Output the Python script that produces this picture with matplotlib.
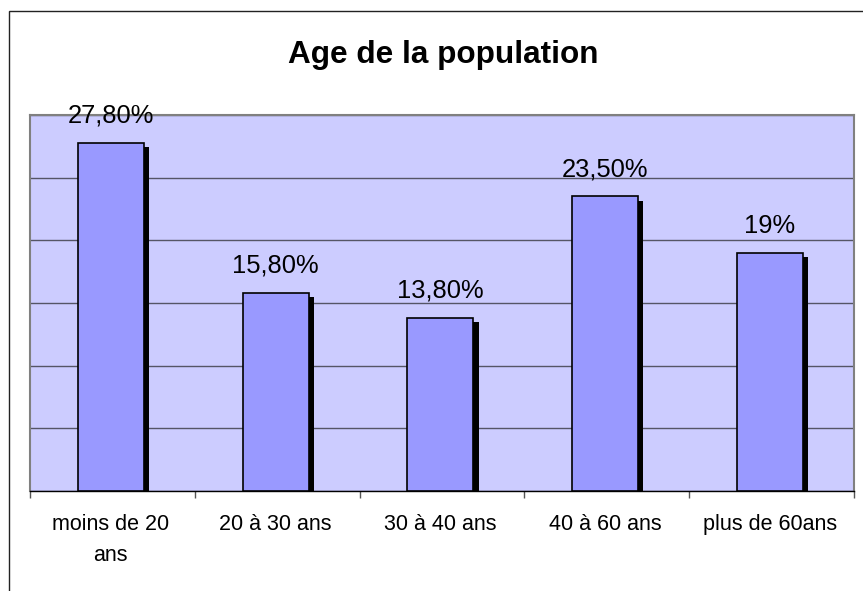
import matplotlib
matplotlib.use("Agg")
import matplotlib.pyplot as plt
from matplotlib import patheffects
from matplotlib.patches import Rectangle
import numpy as np

categories = ["moins de 20\nans", "20 à 30 ans", "30 à 40 ans", "40 à 60 ans", "plus de 60ans"]
values = [27.8, 15.8, 13.8, 23.5, 19.0]
value_labels = ["27,80%", "15,80%", "13,80%", "23,50%", "19%"]
title = "Age de la population"

plt.rcParams['font.family'] = ['Liberation Sans', 'DejaVu Sans']

W, H = 863, 591
fig = plt.figure(figsize=(W / 100, H / 100), dpi=100)

# outer chart border (left/top visible, right/bottom beyond the image)
fig.patches.append(Rectangle((9 / W, -0.05), 1.2, 1 - 11 / H + 0.05,
                             transform=fig.transFigure, fill=False,
                             edgecolor='#222222', linewidth=1.0))

ax = fig.add_axes([30 / W, 1 - 491 / H, (854 - 30) / W, (491 - 115) / H])
ax.set_facecolor('#CCCCFF')
ax.set_xlim(0, len(categories))
ax.set_ylim(0, 30)

ax.set_yticks(np.arange(0, 31, 5))
ax.yaxis.grid(True, color='#555566', linewidth=1.0)
ax.set_axisbelow(True)
ax.tick_params(axis='y', left=False, labelleft=False)

x = np.arange(len(categories)) + 0.49
bars = ax.bar(x, values, width=0.40, color='#9999FF', edgecolor='black',
              linewidth=1.2, zorder=3)
for b in bars:
    b.set_path_effects([patheffects.SimplePatchShadow(offset=(3.8, -3.0),
                                                      shadow_rgbFace='black',
                                                      alpha=1.0),
                        patheffects.Normal()])

for xi, v, lab in zip(x, values, value_labels):
    ax.annotate(lab, (xi, v), xytext=(0, 14.5), textcoords='offset points',
                ha='center', va='baseline', fontsize=18.4, color='black',
                annotation_clip=False, zorder=5)

ax.set_xticks(np.arange(0, len(categories) + 1))
ax.set_xticklabels([])
ax.tick_params(axis='x', which='major', direction='out', length=5, width=1,
               color='#555555')
ax.set_xticks(x, minor=True)
ax.set_xticklabels(categories, minor=True, fontsize=15.5, linespacing=1.65)
ax.tick_params(axis='x', which='minor', length=0, pad=16.5)

for s in ['top', 'right', 'left']:
    ax.spines[s].set_color('#808080')
    ax.spines[s].set_linewidth(1.5)
ax.spines['bottom'].set_color('black')
ax.spines['bottom'].set_linewidth(1.0)

fig.text(443 / W, 1 - 63 / H, title, ha='center', va='baseline',
         fontsize=22.7, fontweight='bold')

fig.savefig('out.png', dpi=100)
